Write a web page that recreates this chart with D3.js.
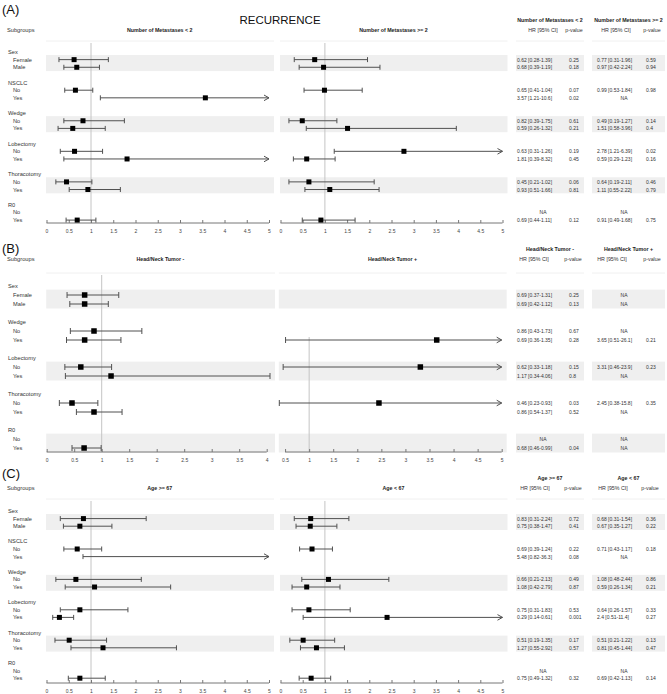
<!DOCTYPE html>
<html><head><meta charset="utf-8">
<script src="https://cdn.jsdelivr.net/npm/d3@7"></script>
<style>
body{margin:0;background:#fff;}
svg text{font-family:"Liberation Sans",Arial,sans-serif;fill:#333;}
</style></head><body><div id="chart"></div>
<script>
var width = 667, height = 694;

// subgroup structure
var groupsAC = ["Sex","NSCLC","Wedge","Lobectomy","Thoracotomy","R0"];
var groupsB = ["Sex","Wedge","Lobectomy","Thoracotomy","R0"];
var levelsSex = ["Female","Male"], levelsYesNo = ["No","Yes"];

// axis tick labels
var ticks0to5 = [0,0.5,1,1.5,2,2.5,3,3.5,4,4.5,5];
var ticks0to4 = [0,0.5,1,1.5,2,2.5,3,3.5,4];
var ticks05to5 = [0.5,1,1.5,2,2.5,3,3.5,4,4.5,5];

// [HR, lower, upper, p-value] per level row, null = NA
var metLt2 = [
  [0.62,0.28,1.39,"0.25"],[0.68,0.39,1.19,"0.18"],
  [0.65,0.41,1.04,"0.07"],[3.57,1.21,10.6,"0.02"],
  [0.82,0.39,1.75,"0.61"],[0.59,0.26,1.32,"0.21"],
  [0.63,0.31,1.26,"0.19"],[1.81,0.39,8.32,"0.45"],
  [0.45,0.21,1.02,"0.06"],[0.93,0.51,1.66,"0.81"],
  null,[0.69,0.44,1.11,"0.12"]];
var metGe2 = [
  [0.77,0.31,1.96,"0.59"],[0.97,0.42,2.24,"0.94"],
  [0.99,0.53,1.84,"0.98"],null,
  [0.49,0.19,1.27,"0.14"],[1.51,0.58,3.96,"0.4"],
  [2.78,1.21,6.39,"0.02"],[0.59,0.29,1.23,"0.16"],
  [0.64,0.19,2.11,"0.46"],[1.11,0.55,2.22,"0.79"],
  null,[0.91,0.49,1.68,"0.75"]];
var headNeg = [
  [0.69,0.37,1.31,"0.25"],[0.69,0.42,1.12,"0.13"],
  [0.86,0.43,1.73,"0.67"],[0.69,0.36,1.35,"0.28"],
  [0.62,0.33,1.18,"0.15"],[1.17,0.34,4.06,"0.8"],
  [0.46,0.23,0.93,"0.03"],[0.86,0.54,1.37,"0.52"],
  null,[0.68,0.46,0.99,"0.04"]];
var headPos = [
  null,null,
  null,[3.65,0.51,26.1,"0.21"],
  [3.31,0.46,23.9,"0.23"],null,
  [2.45,0.38,15.8,"0.35"],null,
  null,null];
var ageGe67 = [
  [0.83,0.31,2.24,"0.72"],[0.75,0.38,1.47,"0.41"],
  [0.69,0.39,1.24,"0.22"],[5.48,0.82,36.3,"0.08"],
  [0.66,0.21,2.13,"0.49"],[1.08,0.42,2.79,"0.87"],
  [0.75,0.31,1.83,"0.53"],[0.29,0.14,0.61,"0.001"],
  [0.51,0.19,1.35,"0.17"],[1.27,0.55,2.92,"0.57"],
  null,[0.75,0.49,1.32,"0.32"]];
var ageLt67 = [
  [0.68,0.31,1.54,"0.36"],[0.67,0.35,1.27,"0.22"],
  [0.71,0.43,1.17,"0.18"],null,
  [1.08,0.48,2.44,"0.86"],[0.59,0.26,1.34,"0.21"],
  [0.64,0.26,1.57,"0.33"],[2.4,0.51,11.4,"0.27"],
  [0.51,0.21,1.22,"0.13"],[0.81,0.45,1.44,"0.47"],
  null,[0.69,0.42,1.13,"0.14"]];

var panels = [
  {label:"(A)", labelY:9, titleY:20, headY:30, sepY:41, rowY:52, slot:7.64, axisY:223, groups:groupsAC, box:5,
   tbl:{hr:[543,616], p:[574,652]},
   series:[
    {title:"Number of Metastases < 2", data:metLt2, dom:[0,5], rng:[46.5,269], ticks:ticks0to5},
    {title:"Number of Metastases >= 2", data:metGe2, dom:[0,5], rng:[280.5,502.5], ticks:ticks0to5}]},
  {label:"(B)", labelY:248, titleY:249, headY:259, sepY:273, rowY:286, slot:9, axisY:452, groups:groupsB, box:5.5,
   tbl:{hr:[534,612], p:[573,652]},
   series:[
    {title:"Head/Neck Tumor -", data:headNeg, dom:[0,4.06], rng:[46.7,270], ticks:ticks0to4},
    {title:"Head/Neck Tumor +", data:headPos, dom:[0.38,5], rng:[279.3,501.7], ticks:ticks05to5}]},
  {label:"(C)", labelY:473, titleY:478, headY:488, sepY:499, rowY:511, slot:7.6, axisY:683, groups:groupsAC, box:5,
   tbl:{hr:[535,613], p:[573,650]},
   series:[
    {title:"Age >= 67", data:ageGe67, dom:[0,5], rng:[46.5,269], ticks:ticks0to5},
    {title:"Age < 67", data:ageLt67, dom:[0,5], rng:[280.5,502.5], ticks:ticks0to5}]}
];

var fmt = d3.format(".3~g"), tickFmt = d3.format("~g");
var tblCols = [[516,584],[592,665]], tblHrX = [517,597], tblPX = [569,646], tblNaX = [543,624];

var svg = d3.select("#chart").append("svg")
  .attr("width", width).attr("height", height);

svg.append("text").attr("x", 280).attr("y", 19.5)
  .attr("text-anchor","middle").attr("dominant-baseline","central")
  .style("font-size","11.5px").style("fill","#111").text("RECURRENCE");

panels.forEach(function(P) {
  var g = svg.append("g");
  var yRow = function(i) { return P.rowY + i * P.slot; };

  // build row list
  var rows = [], leaf = [];
  P.groups.forEach(function(name, gi) {
    rows.push({text:name, slot:gi*4, head:true});
    var lv = name === "Sex" ? levelsSex : levelsYesNo;
    lv.forEach(function(l, li) {
      var r = {text:l, slot:gi*4+1+li, head:false, gi:gi};
      rows.push(r); leaf.push(r);
    });
  });

  g.append("text").attr("x", 2).attr("y", P.labelY)
    .attr("dominant-baseline","central").style("font-size","13px").style("fill","#111").text(P.label);
  g.append("text").attr("x", 7).attr("y", P.headY).attr("dominant-baseline","central")
    .style("font-size","5.7px").text("Subgroups");

  // bands for every other group
  var bandX = [[P.series[0].rng[0]-0.5, P.series[0].rng[1]+5], [P.series[1].rng[0]-0.5, P.series[1].rng[1]+5]]
    .concat(tblCols);
  P.groups.forEach(function(name, gi) {
    if (gi % 2) return;
    var y0 = yRow(gi*4+1) - P.slot*0.6, y1 = yRow(gi*4+2) + P.slot*0.5;
    bandX.forEach(function(bx) {
      g.append("rect").attr("x", bx[0]).attr("y", y0).attr("width", bx[1]-bx[0]).attr("height", y1-y0)
        .attr("fill","#efefef");
    });
  });

  // separators
  bandX.forEach(function(bx) {
    g.append("line").attr("x1", bx[0]).attr("x2", bx[1]).attr("y1", P.sepY).attr("y2", P.sepY)
      .attr("stroke","#f0f0f0").attr("stroke-width",1);
  });

  // subgroup labels
  g.selectAll(null).data(rows).enter().append("text")
    .attr("x", d => d.head ? 8 : 13).attr("y", d => yRow(d.slot))
    .attr("dominant-baseline","central").style("font-size","5.7px").text(d => d.text);

  P.series.forEach(function(S, si) {
    var x = d3.scaleLinear().domain(S.dom).range(S.rng);
    var xmax = S.dom[1];
    var fg = g.append("g");

    fg.append("text").attr("x", (S.rng[0]+S.rng[1])/2 + 2).attr("y", P.headY)
      .attr("text-anchor","middle").attr("dominant-baseline","central")
      .style("font-size","5.3px").style("font-weight","bold").style("fill","#222").text(S.title);

    // reference line at HR = 1
    var firstData = leaf.findIndex((r, i) => S.data[i]);
    var top = firstData === 0 ? P.sepY + 2 : yRow(leaf[firstData].slot) - 3;
    fg.append("line").attr("x1", x(1)).attr("x2", x(1)).attr("y1", top).attr("y2", P.axisY)
      .attr("stroke","#c4c4c4").attr("stroke-width",1);

    // axis
    var ax = fg.append("g").attr("transform","translate(0," + P.axisY + ")")
      .call(d3.axisBottom(x).tickValues(S.ticks).tickSize(-3).tickPadding(6).tickFormat(tickFmt));
    ax.select(".domain").remove();
    ax.append("line").attr("x1", x(S.ticks[0])).attr("x2", x(S.ticks[S.ticks.length-1]))
      .attr("stroke","#777");
    ax.selectAll(".tick line").attr("stroke","#777");
    ax.selectAll(".tick text").style("font-size","5px").style("fill","#444")
      .style("font-family",'"Liberation Sans",Arial,sans-serif');

    // CIs
    var h = P.box === 5 ? 2.5 : 3;
    leaf.forEach(function(r, i) {
      var d = S.data[i];
      if (!d) return;
      var y = yRow(r.slot), arrow = d[2] > xmax;
      var xl = x(d[1]), xh = x(Math.min(d[2], xmax));
      var ci = fg.append("g").attr("stroke","#505050").attr("stroke-width",1).attr("fill","none");
      ci.append("line").attr("x1", xl).attr("x2", xh).attr("y1", y).attr("y2", y);
      ci.append("line").attr("x1", xl).attr("x2", xl).attr("y1", y-h).attr("y2", y+h);
      if (arrow) {
        ci.append("path").attr("d", "M" + (xh-5) + "," + (y-2.8) + "L" + xh + "," + y + "L" + (xh-5) + "," + (y+2.8));
      } else {
        ci.append("line").attr("x1", xh).attr("x2", xh).attr("y1", y-h).attr("y2", y+h);
      }
      if (d[0] <= xmax) {
        fg.append("rect").attr("x", x(d[0]) - P.box/2).attr("y", y - P.box/2)
          .attr("width", P.box).attr("height", P.box).attr("fill","#000");
      }
    });

    // table column
    var tc = (tblCols[si][0] + tblCols[si][1]) / 2;
    g.append("text").attr("x", tc).attr("y", P.titleY).attr("text-anchor","middle")
      .attr("dominant-baseline","central").style("font-size","5.3px").style("font-weight","bold")
      .style("fill","#222").text(S.title);
    g.append("text").attr("x", P.tbl.hr[si]).attr("y", P.headY).attr("text-anchor","middle")
      .attr("dominant-baseline","central").style("font-size","5.3px").text("HR [95% CI]");
    g.append("text").attr("x", P.tbl.p[si]).attr("y", P.headY).attr("text-anchor","middle")
      .attr("dominant-baseline","central").style("font-size","5.3px").text("p-value");

    leaf.forEach(function(r, i) {
      var d = S.data[i], y = yRow(r.slot);
      if (!d) {
        g.append("text").attr("x", tblNaX[si]).attr("y", y).attr("text-anchor","middle")
          .attr("dominant-baseline","central").style("font-size","5px").text("NA");
        return;
      }
      g.append("text").attr("x", tblHrX[si]).attr("y", y).attr("dominant-baseline","central")
        .style("font-size","5px").text(fmt(d[0]) + " [" + fmt(d[1]) + "-" + fmt(d[2]) + "]");
      g.append("text").attr("x", tblPX[si]).attr("y", y).attr("dominant-baseline","central")
        .style("font-size","5px").text(d[3]);
    });
  });
});
</script></body></html>
